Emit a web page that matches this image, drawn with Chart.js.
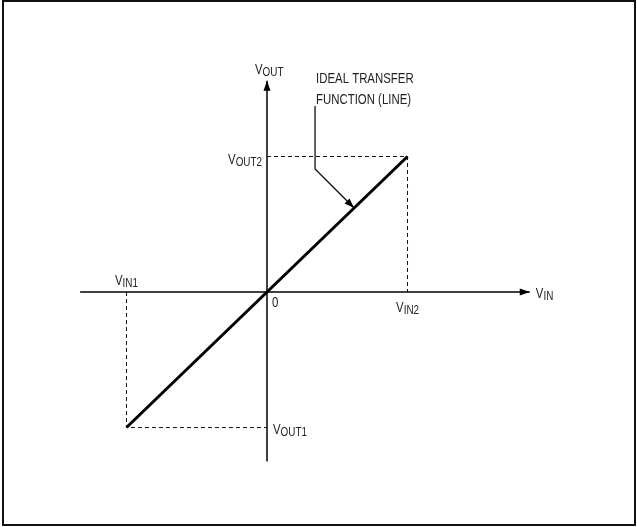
<!DOCTYPE html>
<html>
<head>
<meta charset="utf-8">
<script src="https://cdn.jsdelivr.net/npm/chart.js@4/dist/chart.umd.min.js"></script>
<style>
html,body{margin:0;padding:0;background:#fff;}
#c{display:block;}
</style>
</head>
<body>
<canvas id="c" width="637" height="527"></canvas>
<script>
// ---- data (normalized units) ----
const vIn = [-1, 1];          // VIN1, VIN2
const vOut = [-1, 1];         // VOUT1, VOUT2
const xAxisRange = [-1.33, 1.87];
const yAxisRange = [-1.25, 1.56];
const leaderX = [0.342, 0.342, 0.62];
const leaderY = [1.373, 0.908, 0.62];
const labels = {
  vout: ['V', 'OUT'], vout1: ['V', 'OUT1'], vout2: ['V', 'OUT2'],
  vin: ['V', 'IN'], vin1: ['V', 'IN1'], vin2: ['V', 'IN2'],
  zero: '0', note: ['IDEAL TRANSFER', 'FUNCTION (LINE)']
};

const FONT = '"Liberation Sans",Arial,sans-serif';
const SX = 0.76; // condensed look
const pts = (xs, ys) => xs.map((x, i) => ({x, y: ys[i]}));

const datasets = [
  { data: pts(vIn, vOut), borderColor: '#000', borderWidth: 3, showLine: true, pointRadius: 0, order: 0 },
  { data: pts(leaderX, leaderY), borderColor: '#111', borderWidth: 1.3, showLine: true, pointRadius: 0, order: 1 },
  { data: pts(xAxisRange, [0, 0]), borderColor: '#000', borderWidth: 1.6, showLine: true, pointRadius: 0, order: 2 },
  { data: pts([0, 0], yAxisRange), borderColor: '#111', borderWidth: 1.6, showLine: true, pointRadius: 0, order: 2 },
  { data: pts([vIn[0], vIn[0], 0], [0, vOut[0], vOut[0]]), borderColor: '#111', borderWidth: 1,
    borderDash: [4, 3], showLine: true, pointRadius: 0, order: 3 },
  { data: pts([0, vIn[1], vIn[1]], [vOut[1], vOut[1], 0]), borderColor: '#111', borderWidth: 1,
    borderDash: [4, 3], showLine: true, pointRadius: 0, order: 3 }
];

function arrow(ctx, x0, y0, x1, y1, len, half) {
  const a = Math.atan2(y1 - y0, x1 - x0);
  ctx.save();
  ctx.translate(x1, y1);
  ctx.rotate(a);
  ctx.beginPath();
  ctx.moveTo(0, 0);
  ctx.lineTo(-len, -half);
  ctx.lineTo(-len, half);
  ctx.closePath();
  ctx.fillStyle = '#000';
  ctx.fill();
  ctx.restore();
}

function txtW(ctx, s, size) { ctx.font = size + 'px ' + FONT; return ctx.measureText(s).width * SX; }
function txt(ctx, s, x, y, size) {
  ctx.save();
  ctx.font = size + 'px ' + FONT;
  ctx.textAlign = 'left';
  ctx.textBaseline = 'alphabetic';
  ctx.translate(x, y);
  ctx.scale(SX, 1);
  ctx.fillText(s, 0, 0);
  ctx.restore();
}

function subText(ctx, x, y, parts, align) {
  const w1 = txtW(ctx, parts[0], 15), w2 = txtW(ctx, parts[1], 13);
  let left = x;
  if (align === 'right') left = x - w1 - w2;
  else if (align === 'center') left = x - (w1 + w2) / 2;
  txt(ctx, parts[0], left, y, 15);
  txt(ctx, parts[1], left + w1, y + 2, 13);
}

const decor = {
  id: 'decor',
  beforeDraw(chart) {
    const ctx = chart.ctx;
    ctx.save();
    ctx.fillStyle = '#fff';
    ctx.fillRect(0, 0, chart.width, chart.height);
    ctx.strokeStyle = '#111';
    ctx.lineWidth = 2;
    ctx.strokeRect(3, 1, 632, 524);
    ctx.restore();
  },
  afterDatasetsDraw(chart) {
    const ctx = chart.ctx, xs = chart.scales.x, ys = chart.scales.y;
    const X = v => xs.getPixelForValue(v), Y = v => ys.getPixelForValue(v);
    ctx.save();
    arrow(ctx, X(0), Y(0), X(xAxisRange[1]), Y(0), 10, 3.5);
    arrow(ctx, X(0), Y(0), X(0), Y(yAxisRange[1]), 10, 3.5);
    const n = leaderX.length - 1;
    arrow(ctx, X(leaderX[n - 1]), Y(leaderY[n - 1]), X(leaderX[n]), Y(leaderY[n]), 10, 3.5);

    ctx.fillStyle = '#222';
    subText(ctx, X(0) - 12, Y(yAxisRange[1]) - 7, labels.vout, 'left');
    subText(ctx, X(0) - 5, Y(vOut[1]) + 7, labels.vout2, 'right');
    subText(ctx, X(0) + 6, Y(vOut[0]) + 6, labels.vout1, 'left');
    subText(ctx, X(vIn[0]), Y(0) - 7, labels.vin1, 'center');
    subText(ctx, X(vIn[1]), Y(0) + 20, labels.vin2, 'center');
    subText(ctx, X(xAxisRange[1]) + 6, Y(0) + 6, labels.vin, 'left');
    txt(ctx, labels.zero, X(0) + 5, Y(0) + 15, 15);
    txt(ctx, labels.note[0], X(leaderX[0]) + 1, Y(leaderY[0]) - 23, 15);
    txt(ctx, labels.note[1], X(leaderX[0]) + 1, Y(leaderY[0]) - 2, 15);
    ctx.restore();
  }
};

new Chart(document.getElementById('c'), {
  type: 'scatter',
  data: { datasets },
  options: {
    responsive: false,
    animation: false,
    devicePixelRatio: 1,
    layout: { padding: 0 },
    plugins: { legend: { display: false }, tooltip: { enabled: false } },
    scales: {
      x: { type: 'linear', display: false, min: -1.9, max: 2.633 },
      y: { type: 'linear', display: false, min: -1.734, max: 2.155 }
    }
  },
  plugins: [decor]
});
</script>
</body>
</html>
